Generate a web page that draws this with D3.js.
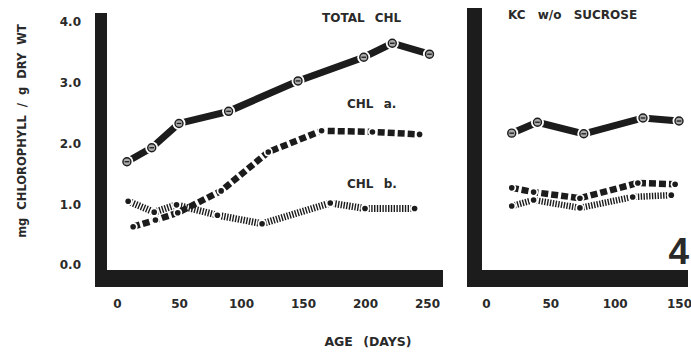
<!DOCTYPE html>
<html>
<head>
<meta charset="utf-8">
<script src="https://cdn.jsdelivr.net/npm/d3@7"></script>
<style>
  body { margin: 0; background: #fff; }
  text { font-family: "DejaVu Sans", sans-serif; font-weight: bold; fill: #2a2a2a; }
</style>
</head>
<body>
<svg id="chart" width="691" height="352"></svg>
<script>
// --- DATA ---
const yTicks = [0, 1, 2, 3, 4];
const leftXTicks = [0, 50, 100, 150, 200, 250];
const rightXTicks = [0, 50, 100, 150];

// left panel (with sucrose)
const leftTotalDays = [8, 28, 50, 90, 146, 199, 222, 252];
const leftTotal = [1.70, 1.93, 2.33, 2.53, 3.03, 3.42, 3.65, 3.47];
const leftADays = [13, 31, 49, 84, 122, 165, 206, 244];
const leftA = [0.63, 0.74, 0.86, 1.22, 1.86, 2.21, 2.19, 2.15];
const leftBDays = [9, 30, 48, 81, 117, 172, 200, 240];
const leftB = [1.05, 0.87, 0.99, 0.82, 0.68, 1.02, 0.93, 0.93];

// right panel (KC w/o sucrose)
const rightTotalDays = [20, 40, 76, 122, 150];
const rightTotal = [2.17, 2.35, 2.16, 2.42, 2.37];
const rightADays = [20, 37, 73, 118, 147];
const rightA = [1.27, 1.20, 1.10, 1.35, 1.33];
const rightBDays = [20, 37, 73, 114, 144];
const rightB = [0.97, 1.07, 0.94, 1.12, 1.15];

const ink = "#1c1c1c";
const svg = d3.select("#chart");

const y = d3.scaleLinear().domain([0, 4]).range([265, 22]);
const xL = d3.scaleLinear().domain([0, 250]).range([117, 427]);
const xR = d3.scaleLinear().domain([0, 150]).range([486, 679]);

const zip = (xs, ys) => xs.map((d, i) => ({ x: d, y: ys[i] }));

// --- FRAME (heavy bars) ---
function frame(left, right, top, w) {
  svg.append("rect").attr("x", left).attr("y", top).attr("width", w).attr("height", 287 - top).attr("fill", ink);
  svg.append("rect").attr("x", left).attr("y", 270).attr("width", right - left).attr("height", 17).attr("fill", ink);
}
frame(95, 443, 13, 12);
frame(467, 688, 8, 15);

// --- AXES ---
const yAxis = d3.axisLeft(y).tickValues(yTicks).tickFormat(d3.format(".1f")).tickSize(0).tickPadding(0);
svg.append("g").attr("transform", "translate(81,0)").call(yAxis)
  .call(g => g.select(".domain").remove())
  .selectAll("text").attr("font-size", 12).style("font-family", "DejaVu Sans").attr("fill", "#2a2a2a");

function xAxis(x, ticks) {
  svg.append("g").attr("transform", "translate(0,299)")
    .call(d3.axisBottom(x).tickValues(ticks).tickSize(0).tickPadding(0))
    .call(g => g.select(".domain").remove())
    .selectAll("text").attr("font-size", 12).style("font-family", "DejaVu Sans").attr("fill", "#2a2a2a");
}
xAxis(xL, leftXTicks);
xAxis(xR, rightXTicks);

// --- SERIES ---
const line = x => d3.line().x(d => x(d.x)).y(d => y(d.y));

function total(x, days, vals) {
  const pts = zip(days, vals);
  svg.append("path").datum(pts).attr("d", line(x)).attr("fill", "none")
    .attr("stroke", ink).attr("stroke-width", 7);
  const g = svg.append("g").selectAll("g").data(pts).enter().append("g")
    .attr("transform", d => `translate(${x(d.x)},${y(d.y)})`);
  g.append("circle").attr("r", 6.5).attr("fill", "#fff");
  g.append("circle").attr("r", 4).attr("fill", "#aaa").attr("stroke", ink).attr("stroke-width", 1.4);
  g.append("line").attr("x1", -2.3).attr("x2", 2.3).attr("stroke", ink).attr("stroke-width", 1.3);
}

function dashed(x, days, vals, width, dash) {
  const pts = zip(days, vals);
  svg.append("path").datum(pts).attr("d", line(x)).attr("fill", "none")
    .attr("stroke", ink).attr("stroke-width", width).attr("stroke-dasharray", dash);
  return pts;
}

function dots(x, pts) {
  const g = svg.append("g");
  g.selectAll("circle.h").data(pts).enter().append("circle")
    .attr("cx", d => x(d.x)).attr("cy", d => y(d.y)).attr("r", 4.5).attr("fill", "#fff");
  g.selectAll("circle.d").data(pts).enter().append("circle")
    .attr("cx", d => x(d.x)).attr("cy", d => y(d.y)).attr("r", 2.8).attr("fill", ink);
}

// left
const lb = dashed(xL, leftBDays, leftB, 7, "1.4,1.4");
const la = dashed(xL, leftADays, leftA, 6.5, "7,3");
dots(xL, lb);
dots(xL, la);
total(xL, leftTotalDays, leftTotal);

// right
const rb = dashed(xR, rightBDays, rightB, 6.5, "1.4,1.4");
const ra = dashed(xR, rightADays, rightA, 6.5, "7,3");
dots(xR, rb);
dots(xR, ra);
total(xR, rightTotalDays, rightTotal);

// --- LABELS ---
function label(txt, x0, y0, size, anchor) {
  return svg.append("text").attr("x", x0).attr("y", y0).attr("font-size", size)
    .attr("text-anchor", anchor || "start").style("word-spacing", "6px").text(txt);
}
label("TOTAL  CHL", 322, 22, 12);
label("CHL  a.", 347, 108, 12);
label("CHL  b.", 347, 188, 12);
label("KC  w/o  SUCROSE", 508, 19, 12).style("word-spacing", "8px");
label("AGE  (DAYS)", 368, 346, 12.5, "middle");
label("4", 689, 264, 37, "end").style("font-family", "Liberation Sans").attr("font-weight", "bold").attr("fill", "#2a2a2a");

svg.append("text").attr("transform", "translate(26,131) rotate(-90)")
  .attr("text-anchor", "middle").attr("font-size", 11.5).style("word-spacing", "4px")
  .text("mg  CHLOROPHYLL  /  g  DRY  WT");
</script>
</body>
</html>
